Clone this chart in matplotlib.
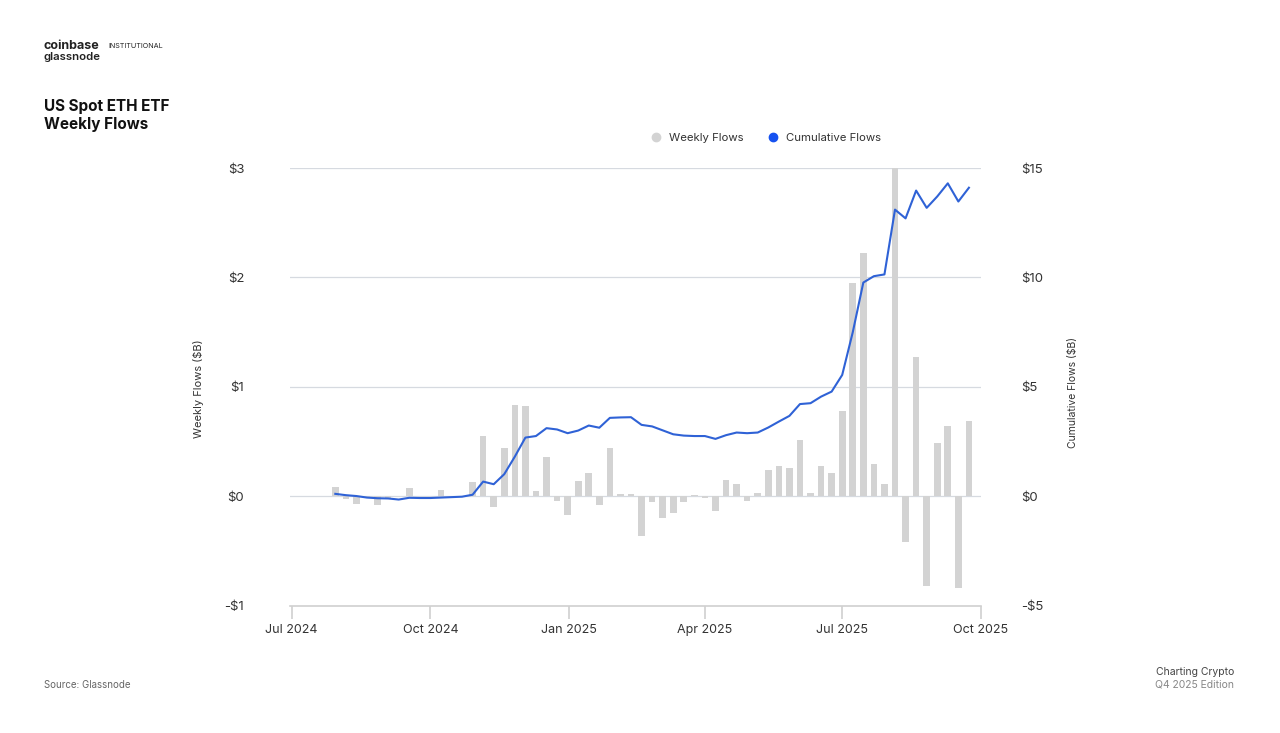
import numpy as np
import pandas as pd
import matplotlib
matplotlib.use('Agg')
import matplotlib.pyplot as plt
import matplotlib.dates as mdates
from matplotlib.lines import Line2D

plt.rcParams['font.family'] = ['Inter', 'DejaVu Sans']

# weekly dates (one bar per week)
weeks = pd.date_range('2024-07-30', periods=61, freq='7D')

# weekly net flows, $B
weekly_flows = [0.09, -0.02, -0.07, -0.01, -0.08, -0.01, 0.0, 0.08, 0.0, 0.0,
                0.06, 0.0, 0.0, 0.13, 0.55, -0.10, 0.44, 0.84, 0.83, 0.05,
                0.36, -0.04, -0.17, 0.14, 0.21, -0.08, 0.44, 0.02, 0.02, -0.36,
                -0.05, -0.20, -0.15, -0.05, 0.01, -0.01, -0.13, 0.15, 0.11, -0.04,
                0.03, 0.24, 0.28, 0.26, 0.52, 0.03, 0.28, 0.21, 0.78, 1.95,
                2.22, 0.30, 0.11, 3.0, -0.42, 1.27, -0.82, 0.49, 0.64, -0.84,
                0.69]

# cumulative flows, $B
cum_flows = [0.12, 0.06, 0.02, -0.05, -0.08, -0.09, -0.14, -0.06, -0.07, -0.07,
             -0.05, -0.03, -0.01, 0.08, 0.68, 0.56, 1.02, 1.82, 2.69, 2.76,
             3.12, 3.06, 2.89, 3.01, 3.24, 3.14, 3.59, 3.61, 3.62, 3.27,
             3.20, 3.02, 2.84, 2.78, 2.76, 2.76, 2.63, 2.80, 2.92, 2.89,
             2.92, 3.15, 3.42, 3.68, 4.22, 4.26, 4.56, 4.79, 5.55, 7.5,
             9.77, 10.06, 10.14, 13.1, 12.7, 13.97, 13.18, 13.7, 14.3, 13.47,
             14.1]

left_ticks = [-1, 0, 1, 2, 3]
left_labels = ['-$1', '$0', '$1', '$2', '$3']
right_ticks = [-5, 0, 5, 10, 15]
right_labels = ['-$5', '$0', '$5', '$10', '$15']

bar_color = '#d3d3d3'
line_color = '#2f62d6'
grid_color = '#d6dae0'

fig = plt.figure(figsize=(12.8, 7.33), dpi=100)
ax = fig.add_axes([0.2266, 0.1733, 0.5398, 0.5975])

ax.bar(weeks, weekly_flows, width=4.4, color=bar_color, zorder=2)
ax.set_ylim(-1, 3)
ax.set_yticks(left_ticks)
ax.set_yticklabels(left_labels)
ax.set_xlim(pd.Timestamp('2024-06-30'), pd.Timestamp('2025-10-01'))

# gridlines only at $0..$3
for v in [0, 1, 2, 3]:
    ax.axhline(v, color=grid_color, lw=0.9, zorder=1)

ax.xaxis.set_major_locator(mdates.MonthLocator(bymonth=[1, 4, 7, 10]))
ax.xaxis.set_major_formatter(mdates.DateFormatter('%b %Y'))

for s in ['top', 'left', 'right']:
    ax.spines[s].set_visible(False)
ax.spines['bottom'].set_color('#d0d0d0')
ax.spines['bottom'].set_linewidth(1.2)
ax.tick_params(axis='x', length=9, width=1.2, color='#d0d0d0', pad=4,
               labelsize=9, labelcolor='#333333')
ax.tick_params(axis='y', length=0, pad=33, labelsize=9.5, labelcolor='#333333')

# cumulative line on the right axis
ax2 = ax.twinx()
ax2.plot(weeks, cum_flows, color=line_color, lw=1.5, zorder=3)
ax2.set_ylim(-5, 15)
ax2.set_yticks(right_ticks)
ax2.set_yticklabels(right_labels)
for s in ['top', 'left', 'right', 'bottom']:
    ax2.spines[s].set_visible(False)
ax2.tick_params(axis='y', length=0, pad=29, labelsize=9.5, labelcolor='#333333')

# axis titles
fig.text(198 / 1280, 1 - 389 / 733, 'Weekly Flows ($B)', rotation=90,
         ha='center', va='center', fontsize=8, color='#333333')
fig.text(1073 / 1280, 1 - 393 / 733, 'Cumulative Flows ($B)', rotation=90,
         ha='center', va='center', fontsize=7.5, color='#333333')

# legend
handles = [Line2D([], [], ls='', marker='o', ms=6, color=bar_color),
           Line2D([], [], ls='', marker='o', ms=6, color='#1652f0')]
fig.legend(handles, ['Weekly Flows', 'Cumulative Flows'], loc='center',
           bbox_to_anchor=(763 / 1280, 1 - 138 / 733), ncol=2, frameon=False,
           fontsize=8.2, handletextpad=0.1, columnspacing=1.6,
           labelcolor='#333333')

# header
fig.text(44 / 1280, 1 - 46 / 733, 'coinbase', fontsize=9, fontweight='bold',
         color='#222222', va='center')
fig.text(108 / 1280, 1 - 46 / 733, 'INSTITUTIONAL', fontsize=5.2,
         color='#222222', va='center')
fig.text(44 / 1280, 1 - 57 / 733, 'glassnode', fontsize=8.2, fontweight='semibold',
         color='#222222', va='center')
fig.text(44 / 1280, 1 - 107 / 733, 'US Spot ETH ETF', fontsize=11,
         fontweight='bold', color='#111111', va='center')
fig.text(44 / 1280, 1 - 125 / 733, 'Weekly Flows', fontsize=11,
         fontweight='bold', color='#111111', va='center')

# footer
fig.text(44 / 1280, 1 - 685 / 733, 'Source: Glassnode', fontsize=7,
         color='#666666', va='center')
fig.text(1234 / 1280, 1 - 672 / 733, 'Charting Crypto', fontsize=7.5,
         color='#444444', va='center', ha='right')
fig.text(1234 / 1280, 1 - 685 / 733, 'Q4 2025 Edition', fontsize=7.5,
         color='#888888', va='center', ha='right')

fig.savefig('out.png', dpi=100)
